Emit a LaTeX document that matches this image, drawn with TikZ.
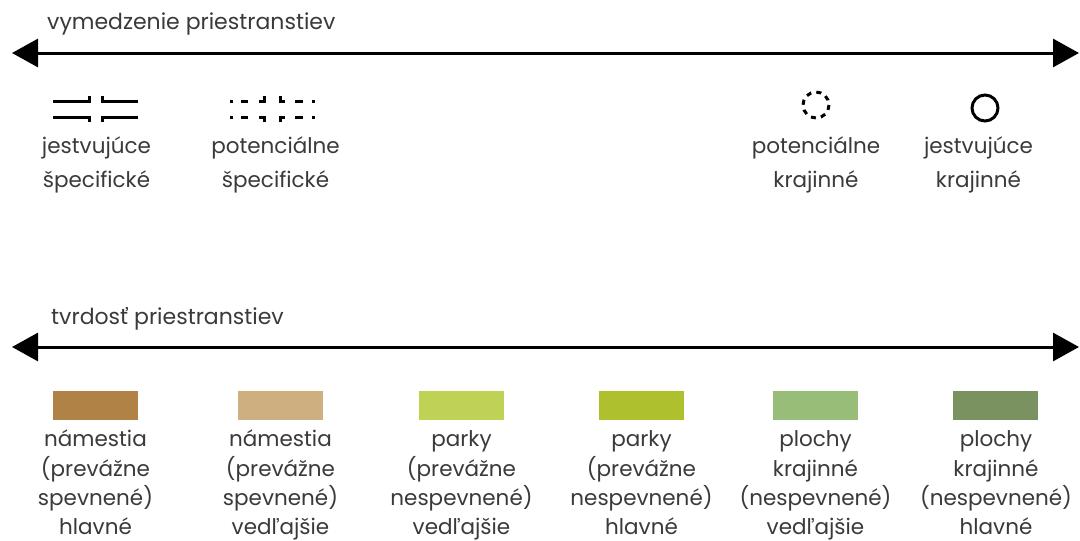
\documentclass[tikz,border=0pt]{standalone}
\usepackage{fontspec}
\setmainfont{Poppins}
\usetikzlibrary{arrows.meta}
\definecolor{txt}{HTML}{3A3A3A}
\definecolor{cA}{RGB}{176,130,70}
\definecolor{cB}{RGB}{206,175,127}
\definecolor{cC}{RGB}{191,210,86}
\definecolor{cD}{RGB}{175,192,46}
\definecolor{cE}{RGB}{151,189,121}
\definecolor{cF}{RGB}{122,146,95}
\begin{document}
\begin{tikzpicture}[x=1pt,y=-1pt,
  dblarrow/.style={line width=3pt, draw=black,
    {Triangle[length=26pt,width=28pt]}-{Triangle[length=26pt,width=28pt]}},
  head/.style={text=txt, font=\fontsize{22}{26}\selectfont, inner sep=0pt, anchor=base west},
  lbl/.style={text=txt, font=\fontsize{21.5}{33.5}\selectfont, align=center, inner sep=0pt, anchor=north},
  leg/.style={text=txt, font=\fontsize{21.5}{29.3}\selectfont, align=center, inner sep=0pt, anchor=north},
  sym/.style={line width=3pt, draw=black},
  swatch/.style={minimum width=85pt, minimum height=29pt, inner sep=0pt, draw=none}]
\useasboundingbox (0,0) rectangle (1080,541);
\fill[white] (0,0) rectangle (1080,541);

% headers and arrows
\node[head] (h1) at (47,29) {vymedzenie priestranstiev};
\coordinate (a1l) at (12,53);
\coordinate (a1r) at (1079,53);
\draw[dblarrow] (a1l) -- (a1r);

\node[head] (h2) at (51,324) {tvrdosť priestranstiev};
\coordinate (a2l) at (12,347);
\coordinate (a2r) at (1079,347);
\draw[dblarrow] (a2l) -- (a2r);

% symbol: jestvujuce specificke
\draw[sym] (53,101) -- (89,101) -- (89,96);
\draw[sym] (53,117) -- (89,117) -- (89,122);
\draw[sym] (138,101) -- (102,101) -- (102,96);
\draw[sym] (138,117) -- (102,117) -- (102,122);

% symbol: potencialne specificke
\draw[sym] (230,101) -- (233,101);
\draw[sym] (241,101) -- (248,101);
\draw[sym] (259,101) -- (264,101) -- (264,96);
\draw[sym] (280,96) -- (280,101) -- (285,101);
\draw[sym] (295,101) -- (303,101);
\draw[sym] (312,101) -- (315,101);
\draw[sym] (230,117) -- (233,117);
\draw[sym] (241,117) -- (248,117);
\draw[sym] (259,117) -- (264,117) -- (264,122);
\draw[sym] (280,122) -- (280,117) -- (285,117);
\draw[sym] (295,117) -- (303,117);
\draw[sym] (312,117) -- (315,117);

% circles
\draw[sym, dash pattern=on 5pt off 5.2pt] (816,105) circle[radius=13];
\draw[sym] (985,108) circle[radius=13];

% top labels
\node[lbl] (t1) at (96.5,130) {\strut jestvujúce\\špecifické};
\node[lbl] (t2) at (275.5,130) {\strut potenciálne\\špecifické};
\node[lbl] (t3) at (816,130) {\strut potenciálne\\krajinné};
\node[lbl] (t4) at (978.5,130) {\strut jestvujúce\\krajinné};

% swatches
\node[swatch, fill=cA] (s1) at (95.5,405) {};
\node[swatch, fill=cB] (s2) at (280.5,405) {};
\node[swatch, fill=cC] (s3) at (461.5,405) {};
\node[swatch, fill=cD] (s4) at (641.5,405) {};
\node[swatch, fill=cE] (s5) at (815.5,405) {};
\node[swatch, fill=cF] (s6) at (995,405) {};

% legend labels
\node[leg] (l1) at (95.5,426) {\strut námestia\\(prevážne\\spevnené)\\hlavné};
\node[leg] (l2) at (280.5,426) {\strut námestia\\(prevážne\\spevnené)\\vedľajšie};
\node[leg] (l3) at (461.5,426) {\strut parky\\(prevážne\\nespevnené)\\vedľajšie};
\node[leg] (l4) at (641.5,426) {\strut parky\\(prevážne\\nespevnené)\\hlavné};
\node[leg] (l5) at (815.5,426) {\strut plochy\\krajinné\\(nespevnené)\\vedľajšie};
\node[leg] (l6) at (996,426) {\strut plochy\\krajinné\\(nespevnené)\\hlavné};
\end{tikzpicture}
\end{document}
